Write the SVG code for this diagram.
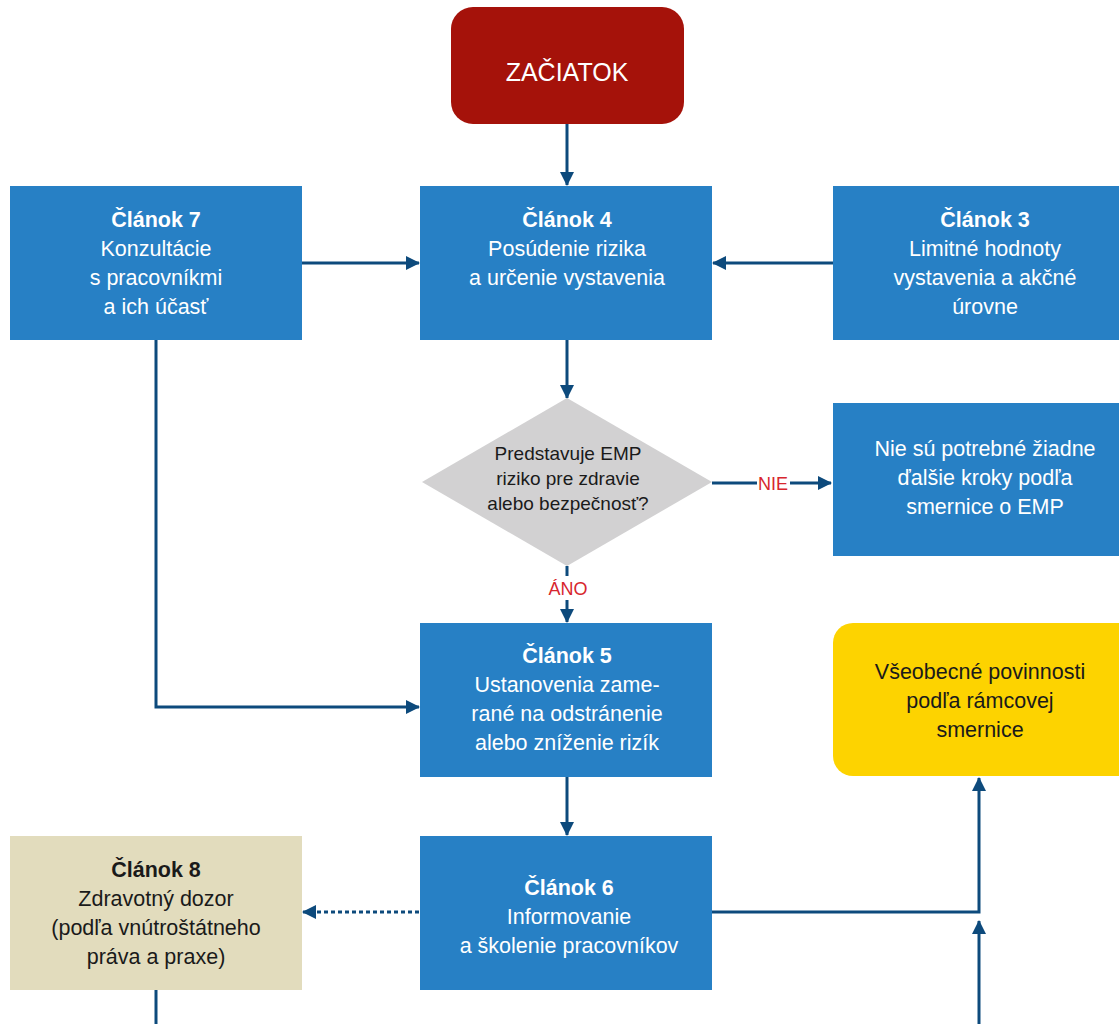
<svg xmlns="http://www.w3.org/2000/svg" width="1119" height="1024" viewBox="0 0 1119 1024">
<defs>
<style>
.box{fill:#2780c5}
.t{font-family:"Liberation Sans","Noto Sans",sans-serif;font-size:21.5px;text-anchor:middle}
.w{fill:#ffffff}
.k{fill:#1a1a1a}
.b{font-weight:bold}
.lbl{font-family:"Liberation Sans","Noto Sans",sans-serif;font-size:18px;fill:#d7262e;text-anchor:middle}
.c{stroke:#0d4a7c;stroke-width:3;fill:none}
</style>
<marker id="ah" viewBox="0 0 14 14" refX="13" refY="7" markerWidth="14" markerHeight="14" markerUnits="userSpaceOnUse" orient="auto">
<path d="M0,0 L14,7 L0,14 Z" fill="#0d4a7c"/>
</marker>
</defs>
<rect width="1119" height="1024" fill="#ffffff"/>
<g id="connectors">
<line class="c" x1="567" y1="124" x2="567" y2="185" marker-end="url(#ah)"/>
<line class="c" x1="302" y1="263" x2="419" y2="263" marker-end="url(#ah)"/>
<line class="c" x1="833" y1="263" x2="713" y2="263" marker-end="url(#ah)"/>
<line class="c" x1="567" y1="340" x2="567" y2="398" marker-end="url(#ah)"/>
<line class="c" x1="712" y1="483" x2="757" y2="483"/>
<line class="c" x1="790" y1="483" x2="831" y2="483" marker-end="url(#ah)"/>
<line class="c" x1="567" y1="566" x2="567" y2="576"/>
<line class="c" x1="567" y1="600" x2="567" y2="622" marker-end="url(#ah)"/>
<polyline class="c" points="156,340 156,707 419,707" marker-end="url(#ah)"/>
<line class="c" x1="567" y1="777" x2="567" y2="835" marker-end="url(#ah)"/>
<line class="c" x1="419" y1="912" x2="303" y2="912" stroke-dasharray="4,3" marker-end="url(#ah)"/>
<polyline class="c" points="712,912 979,912 979,778" marker-end="url(#ah)"/>
<line class="c" x1="979" y1="1024" x2="979" y2="921" marker-end="url(#ah)"/>
<line class="c" x1="156" y1="990" x2="156" y2="1024"/>
<text class="lbl" x="773" y="490">NIE</text>
<text class="lbl" x="568" y="595">ÁNO</text>
</g>
<g id="start">
<rect x="451" y="7" width="233" height="117" rx="22" fill="#a5120a"/>
<text class="t w" x="567" y="81" style="font-size:25px">ZAČIATOK</text>
</g>
<g id="clanok7">
<rect class="box" x="10" y="186" width="292" height="154"/>
<text class="t w b" x="156" y="227">Článok 7</text>
<text class="t w" x="156" y="256">Konzultácie</text>
<text class="t w" x="156" y="285">s pracovníkmi</text>
<text class="t w" x="156" y="314">a ich účasť</text>
</g>
<g id="clanok4">
<rect class="box" x="420" y="186" width="292" height="154"/>
<text class="t w b" x="567" y="227">Článok 4</text>
<text class="t w" x="567" y="256">Posúdenie rizika</text>
<text class="t w" x="567" y="285">a určenie vystavenia</text>
</g>
<g id="clanok3">
<rect class="box" x="833" y="186" width="286" height="154"/>
<text class="t w b" x="985" y="227">Článok 3</text>
<text class="t w" x="985" y="256">Limitné hodnoty</text>
<text class="t w" x="985" y="285">vystavenia a akčné</text>
<text class="t w" x="985" y="314">úrovne</text>
</g>
<g id="decision">
<polygon points="567,398 712,482 567,566 422,482" fill="#d2d1d2"/>
<text class="t k" x="568" y="460" style="font-size:19px">Predstavuje EMP</text>
<text class="t k" x="568" y="485" style="font-size:19px">riziko pre zdravie</text>
<text class="t k" x="568" y="510" style="font-size:19px">alebo bezpečnosť?</text>
</g>
<g id="no-steps">
<rect class="box" x="833" y="403" width="286" height="153"/>
<text class="t w" x="985" y="456">Nie sú potrebné žiadne</text>
<text class="t w" x="985" y="485">ďalšie kroky podľa</text>
<text class="t w" x="985" y="514">smernice o EMP</text>
</g>
<g id="clanok5">
<rect class="box" x="420" y="623" width="292" height="154"/>
<text class="t w b" x="567" y="663">Článok 5</text>
<text class="t w" x="567" y="692">Ustanovenia zame-</text>
<text class="t w" x="567" y="721">rané na odstránenie</text>
<text class="t w" x="567" y="750">alebo zníženie rizík</text>
</g>
<g id="general">
<rect x="833" y="623" width="306" height="153" rx="20" fill="#fdd300"/>
<text class="t k" x="980" y="679">Všeobecné povinnosti</text>
<text class="t k" x="980" y="708">podľa rámcovej</text>
<text class="t k" x="980" y="737">smernice</text>
</g>
<g id="clanok8">
<rect x="10" y="836" width="292" height="154" fill="#e2dcbd"/>
<text class="t k b" x="156" y="877">Článok 8</text>
<text class="t k" x="156" y="906">Zdravotný dozor</text>
<text class="t k" x="156" y="935">(podľa vnútroštátneho</text>
<text class="t k" x="156" y="964">práva a praxe)</text>
</g>
<g id="clanok6">
<rect class="box" x="420" y="836" width="292" height="154"/>
<text class="t w b" x="569" y="895">Článok 6</text>
<text class="t w" x="569" y="924">Informovanie</text>
<text class="t w" x="569" y="953">a školenie pracovníkov</text>
</g>
</svg>
